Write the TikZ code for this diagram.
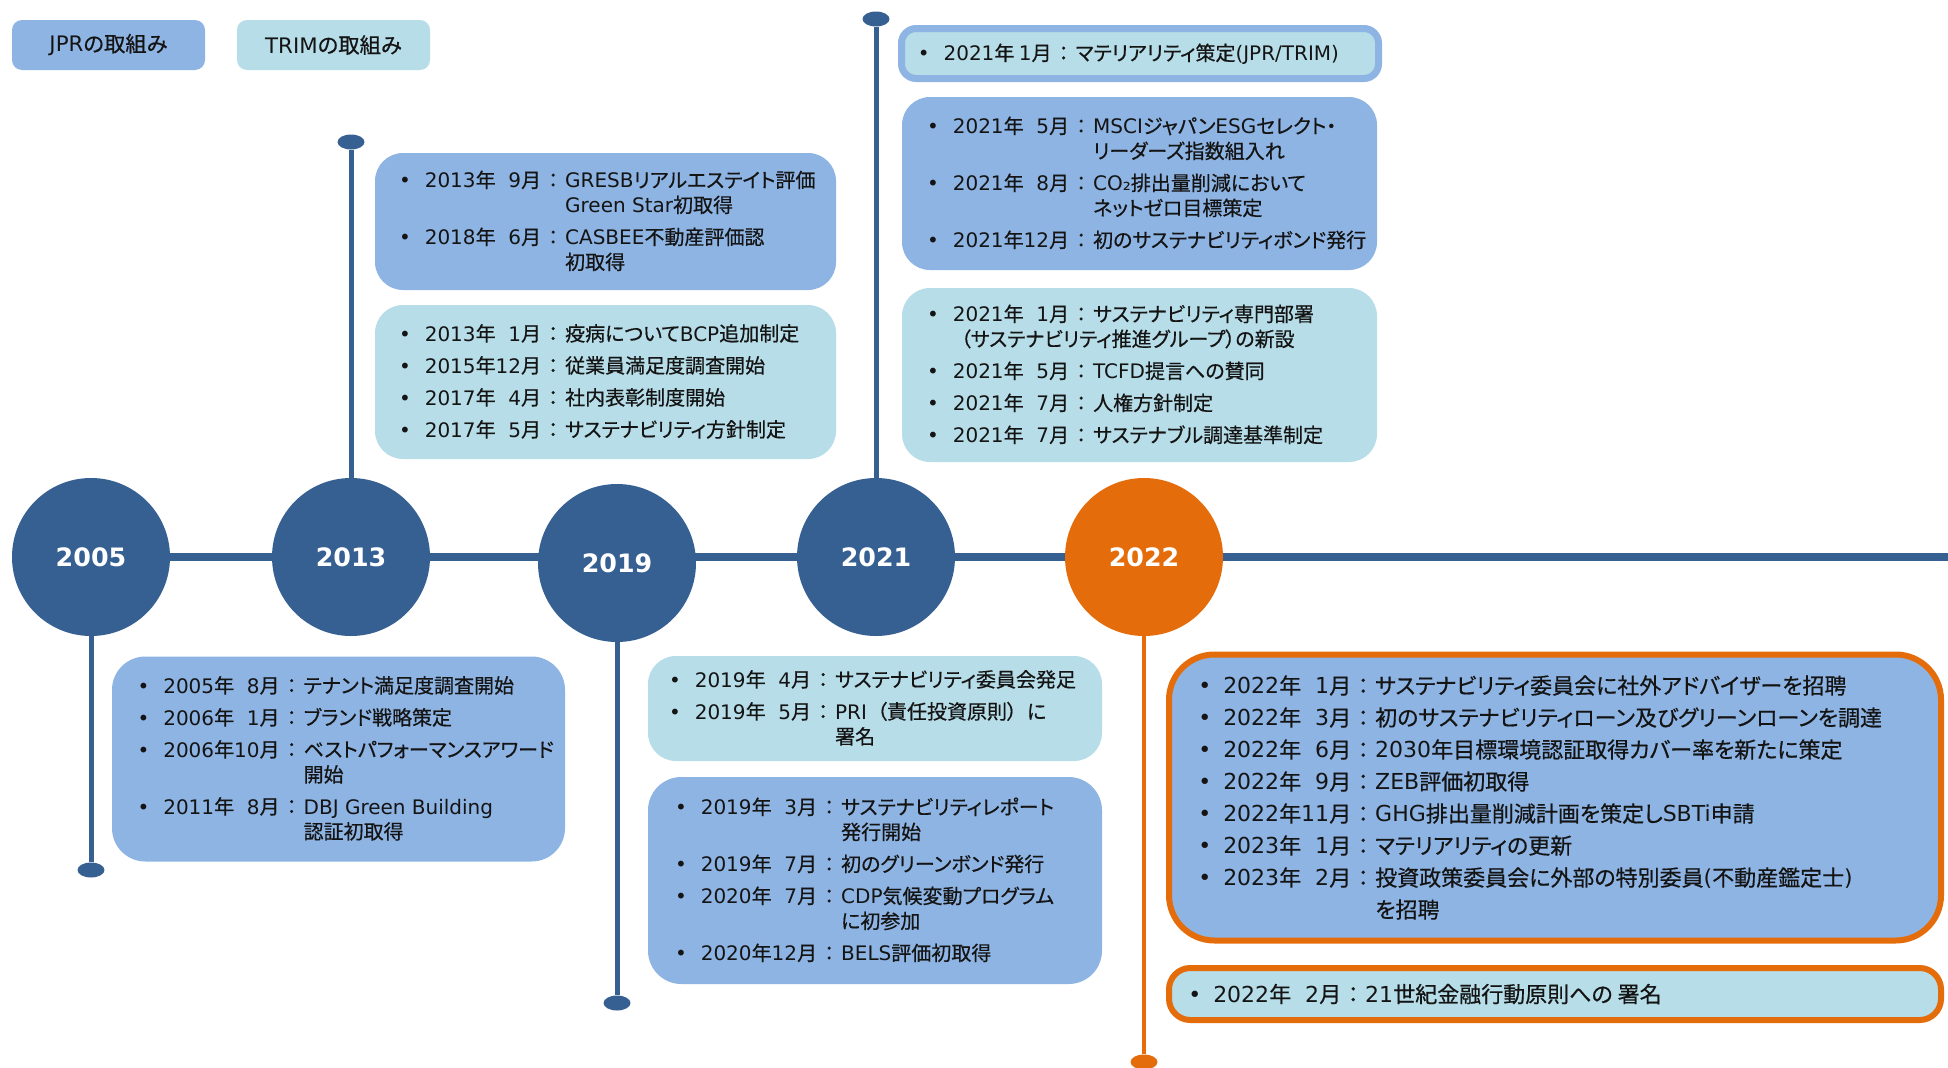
\documentclass[tikz,border=0pt]{standalone}
\usepackage{fontspec}
\setmainfont{DejaVu Sans}
\newfontfamily\cjkfont[Scale=1.0, RawFeature=+palt, FakeBold=0.5]{Noto Sans CJK JP}
\usetikzlibrary{calc,backgrounds,shapes.geometric}

\XeTeXinterchartokenstate=1
\newXeTeXintercharclass\JPclass
\newcount\jpc
\def\setjprange#1#2{\jpc=#1\relax
  \loop\XeTeXcharclass\jpc=\JPclass\relax
  \ifnum\jpc<#2\relax\advance\jpc by 1\repeat}
\setjprange{"3000}{"30FF}
\setjprange{"4E00}{"9FFF}
\setjprange{"FF00}{"FFEF}
\XeTeXinterchartoks 0 \JPclass = {\cjkfont}
\XeTeXinterchartoks 4095 \JPclass = {\cjkfont}
\XeTeXinterchartoks \JPclass 0 = {\rmfamily}
\XeTeXinterchartoks 4095 0 = {\rmfamily}

\definecolor{jprblue}{RGB}{142,180,227}
\definecolor{trimblue}{RGB}{183,221,232}
\definecolor{navy}{RGB}{55,96,146}
\definecolor{orng}{RGB}{228,108,10}
\definecolor{txt}{RGB}{20,20,20}

\newcommand{\cln}{\makebox[15pt][c]{：}}
\newcommand{\lpar}{\makebox[15pt][r]{（}}
\newcommand{\rpar}{\makebox[15pt][l]{）}}
\newcommand{\evtab}[1]{\begin{tabular}{@{}l@{\hspace{10.5pt}}l@{\hspace{1.5pt}}l@{\hspace{1.5pt}}l@{}}#1\end{tabular}}
\newcommand{\evtabb}[1]{\begin{tabular}{@{}l@{\hspace{9pt}}l@{\hspace{1.5pt}}l@{\hspace{1.5pt}}l@{}}#1\end{tabular}}
\newcommand{\igap}{\\[5.25pt]}
\newcommand{\dsp}{\hphantom{1}}

\tikzset{
  panel/.style={rectangle, rounded corners=21pt, inner sep=0pt},
  jprpanel/.style={panel, fill=jprblue},
  trimpanel/.style={panel, fill=trimblue},
  evtext/.style={anchor=west, inner sep=0pt, text=txt, font=\fontsize{15pt}{18.75pt}\selectfont},
  bigtext/.style={evtext, font=\fontsize{16.5pt}{24pt}\selectfont},
  legend/.style={rectangle, rounded corners=7.5pt, minimum width=144.75pt, minimum height=37.5pt, inner sep=0pt, text=txt, font=\fontsize{16pt}{19pt}\selectfont},
  year/.style={circle, fill=navy, minimum size=118.5pt, inner sep=0pt, text=white, font=\fontsize{19pt}{22pt}\selectfont\bfseries},
  enddot/.style={ellipse, fill=navy, minimum width=20.25pt, minimum height=11.25pt, inner sep=0pt},
  stem/.style={draw=navy, line width=3.75pt},
  ostem/.style={draw=orng, line width=3pt},
  tline/.style={draw=navy, line width=6pt}
}

\begin{document}
\begin{tikzpicture}[x=0.75pt, y=-0.75pt]
\useasboundingbox (0,0) rectangle (1948,1067);

% legend
\node[legend, fill=jprblue] (legj) at (108.5,45) {JPRの取組み};
\node[legend, fill=trimblue] (legt) at (333.5,45) {TRIMの取組み};

% year circles
\node[year] (c2005) at (91,557) {2005};
\node[year] (c2013) at (351,557) {2013};
\node[year] (c2019) at (617,563) {2019};
\node[year] (c2021) at (876,557) {2021};
\node[year, fill=orng] (c2022) at (1144,557) {2022};
\coordinate (tlend) at (1948,557);

% end dots
\node[enddot] (d2005) at (91,870) {};
\node[enddot] (d2013) at (351,142) {};
\node[enddot] (d2019) at (617,1003) {};
\node[enddot] (d2021) at (876,19) {};
\node[enddot, fill=orng] (d2022) at (1144,1062) {};

% stems
\draw[stem] (c2005) -- (d2005);
\draw[stem] (c2013) -- (d2013);
\draw[stem] (c2019) -- (d2019);
\draw[stem] (c2021) -- (d2021);
\draw[ostem] (c2022) -- (d2022);

% panels
\node[jprpanel, minimum width=345.75pt, minimum height=102.75pt] (b13j) at (605.5,221.5) {};
\node[trimpanel, minimum width=345.75pt, minimum height=115.5pt] (b13t) at (605.5,382) {};
\node[panel, rounded corners=11pt, fill=trimblue, draw=jprblue, line width=5.25pt, minimum width=357.75pt, minimum height=37.5pt] (b21m) at (1140,53.5) {};
\node[jprpanel, minimum width=356.25pt, minimum height=129.75pt] (b21j) at (1139.5,183.5) {};
\node[trimpanel, minimum width=356.25pt, minimum height=130.5pt] (b21t) at (1139.5,375) {};
\node[jprpanel, rounded corners=25pt, minimum width=339.75pt, minimum height=153.75pt] (b05) at (338.5,759) {};
\node[trimpanel, minimum width=340.5pt, minimum height=78.75pt] (b19t) at (875,708.5) {};
\node[jprpanel, rounded corners=25pt, minimum width=340.5pt, minimum height=155.25pt] (b19j) at (875,880.5) {};
\node[panel, rounded corners=34pt, fill=jprblue, draw=orng, line width=4.5pt, minimum width=579pt, minimum height=214.5pt] (b22j) at (1555,797.5) {};
\node[panel, rounded corners=16pt, fill=trimblue, draw=orng, line width=4.5pt, minimum width=579pt, minimum height=39pt] (b22t) at (1555,994) {};

% texts
\node[evtext] (t13j) at ($(b13j.west)+(24,2)$) {\evtab{
• & 2013年\dsp9月 & \cln & GRESBリアルエステイト評価\\
  & & & Green Star初取得\igap
• & 2018年\dsp6月 & \cln & CASBEE不動産評価認\\
  & & & 初取得}};

\node[evtext] (t13t) at ($(b13t.west)+(24,2)$) {\evtab{
• & 2013年\dsp1月 & \cln & 疫病についてBCP追加制定\igap
• & 2015年12月 & \cln & 従業員満足度調査開始\igap
• & 2017年\dsp4月 & \cln & 社内表彰制度開始\igap
• & 2017年\dsp5月 & \cln & サステナビリティ方針制定}};

\node[evtext] (t21m) at ($(b21m.west)+(19.5,2)$) {\evtab{
• & 2021年 1月 & \cln & マテリアリティ策定(JPR/TRIM)}};

\node[evtext] (t21j) at ($(b21j.west)+(25,2)$) {\evtab{
• & 2021年\dsp5月 & \cln & MSCIジャパンESGセレクト・\\
  & & & リーダーズ指数組入れ\igap
• & 2021年\dsp8月 & \cln & CO₂排出量削減において\\
  & & & ネットゼロ目標策定\igap
• & 2021年12月 & \cln & 初のサステナビリティボンド発行}};

\node[evtext] (t21t) at ($(b21t.west)+(25,2)$) {\evtab{
• & 2021年\dsp1月 & \cln & サステナビリティ専門部署\\
  & \multicolumn{3}{l}{（サステナビリティ推進グループ）の新設}\igap
• & 2021年\dsp5月 & \cln & TCFD提言への賛同\igap
• & 2021年\dsp7月 & \cln & 人権方針制定\igap
• & 2021年\dsp7月 & \cln & サステナブル調達基準制定}};

\node[evtext] (t05) at ($(b05.west)+(25.5,2)$) {\evtab{
• & 2005年\dsp8月 & \cln & テナント満足度調査開始\igap
• & 2006年\dsp1月 & \cln & ブランド戦略策定\igap
• & 2006年10月 & \cln & ベストパフォーマンスアワード\\
  & & & 開始\igap
• & 2011年\dsp8月 & \cln & DBJ Green Building\\
  & & & 認証初取得}};

\node[evtext] (t19t) at ($(b19t.west)+(21,2)$) {\evtab{
• & 2019年\dsp4月 & \cln & サステナビリティ委員会発足\igap
• & 2019年\dsp5月 & \cln & PRI\lpar 責任投資原則\rpar に\\
  & & & 署名}};

\node[evtext] (t19j) at ($(b19j.west)+(27,2)$) {\evtab{
• & 2019年\dsp3月 & \cln & サステナビリティレポート\\
  & & & 発行開始\igap
• & 2019年\dsp7月 & \cln & 初のグリーンボンド発行\igap
• & 2020年\dsp7月 & \cln & CDP気候変動プログラム\\
  & & & に初参加\igap
• & 2020年12月 & \cln & BELS評価初取得}};

\node[bigtext] (t22j) at ($(b22j.west)+(32,2)$) {\evtabb{
• & 2022年\dsp1月 & \cln & サステナビリティ委員会に社外アドバイザーを招聘\\
• & 2022年\dsp3月 & \cln & 初のサステナビリティローン及びグリーンローンを調達\\
• & 2022年\dsp6月 & \cln & 2030年目標環境認証取得カバー率を新たに策定\\
• & 2022年\dsp9月 & \cln & ZEB評価初取得\\
• & 2022年11月 & \cln & GHG排出量削減計画を策定しSBTi申請\\
• & 2023年\dsp1月 & \cln & マテリアリティの更新\\
• & 2023年\dsp2月 & \cln & 投資政策委員会に外部の特別委員(不動産鑑定士)\\
  & & & を招聘}};

\node[bigtext] (t22t) at ($(b22t.west)+(22,2)$) {\evtabb{
• & 2022年\dsp2月 & \cln & 21世紀金融行動原則への 署名}};

% background: white page and the timeline
\begin{pgfonlayer}{background}
\fill[white] (0,0) rectangle (1948,1067);
\draw[tline] (c2005.east) -- (tlend);
\end{pgfonlayer}
\end{tikzpicture}
\end{document}
